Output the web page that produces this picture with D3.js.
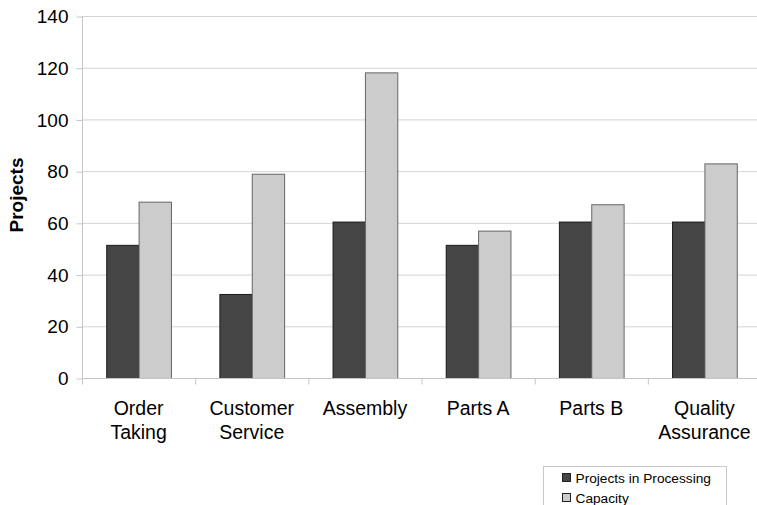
<!DOCTYPE html>
<html>
  <head>
    <meta charset="UTF-8" />
    <title>Projects vs Capacity</title>
    <script src="https://d3js.org/d3.v7.min.js"></script>
    <style>
      * { margin: 0; padding: 0; box-sizing: border-box; }
      body { background: #ffffff; overflow: hidden; }
      svg { display: block; font-family: "Liberation Sans", Arial, sans-serif; }
      .grid line { stroke: #d4d4d4; stroke-width: 1; }
      .axis path, .axis line { stroke: #c4c4c4; }
      .axis text { fill: #000; font-size: 19px; }
    </style>
  </head>
  <body>
    <svg id="chart" width="757" height="505"></svg>
    <script>
      const categories = [["Order", "Taking"], ["Customer", "Service"], ["Assembly"], ["Parts A"], ["Parts B"], ["Quality", "Assurance"]];
      const inProcessing = [51.5, 32.5, 60.5, 51.5, 60.5, 60.5];
      const capacity = [68.2, 79, 118.2, 57, 67.2, 83];
      const seriesNames = ["Projects in Processing", "Capacity"];
      const yTicks = [0, 20, 40, 60, 80, 100, 120, 140];

      const svg = d3.select("#chart");
      const margin = { left: 82, top: 16, right: -4, bottom: 127 };
      const width = 757 - margin.left - margin.right;
      const height = 505 - margin.top - margin.bottom;

      const g = svg.append("g").attr("transform", `translate(${margin.left},${margin.top})`);

      const x = d3.scaleBand().domain(d3.range(categories.length)).range([0, width]).paddingInner(0).paddingOuter(0);
      const inner = d3.scaleBand().domain([0, 1]).range([x.bandwidth() * 0.214, x.bandwidth() * 0.786]);
      const y = d3.scaleLinear().domain([0, 140]).range([height, 0]);

      // gridlines
      g.append("g").attr("class", "grid")
        .selectAll("line").data(yTicks.slice(1)).join("line")
        .attr("x1", 0).attr("x2", width)
        .attr("y1", d => y(d) + 0.5).attr("y2", d => y(d) + 0.5);

      // y axis
      const yAxis = g.append("g").attr("class", "axis")
        .attr("transform", "translate(0.5,0.5)")
        .call(d3.axisLeft(y).tickValues(yTicks).tickSize(6).tickPadding(8));
      yAxis.select(".domain").attr("d", `M0,${height}V0`);

      // bars
      const colors = ["#454545", "#cccccc"];
      const strokes = ["#1a1a1a", "#666666"];
      [inProcessing, capacity].forEach((vals, s) => {
        g.append("g").selectAll("rect").data(vals).join("rect")
          .attr("x", (d, i) => x(i) + inner(s) + 0.5)
          .attr("y", d => y(d) + 0.5)
          .attr("width", inner.bandwidth())
          .attr("height", d => height - y(d))
          .attr("fill", colors[s])
          .attr("stroke", strokes[s])
          .attr("stroke-width", 1);
      });

      // x axis
      const xAxis = g.append("g").attr("class", "axis")
        .attr("transform", `translate(0,${height + 0.5})`);
      xAxis.append("line").attr("x1", 0).attr("x2", width).attr("y1", 0).attr("y2", 0);
      xAxis.selectAll(".tk").data(d3.range(categories.length + 1)).join("line")
        .attr("class", "tk")
        .attr("x1", i => (i < categories.length ? x(i) : width) + 0.5)
        .attr("x2", i => (i < categories.length ? x(i) : width) + 0.5)
        .attr("y1", 0).attr("y2", 6);
      const labels = xAxis.selectAll(".lbl").data(categories).join("text")
        .attr("class", "lbl")
        .attr("text-anchor", "middle")
        .style("font-size", "19.5px")
        .attr("transform", (d, i) => `translate(${x(i) + x.bandwidth() / 2},0)`);
      labels.selectAll("tspan").data(d => d).join("tspan")
        .attr("x", 0)
        .attr("y", (d, j) => 36 + j * 24)
        .text(d => d);

      // y title
      svg.append("text")
        .attr("transform", `translate(23,195) rotate(-90)`)
        .attr("text-anchor", "middle")
        .attr("font-size", 19)
        .attr("font-weight", "bold")
        .text("Projects");

      // legend
      const legend = svg.append("g").attr("transform", "translate(543.5,466.5)");
      legend.append("rect").attr("width", 183).attr("height", 60)
        .attr("fill", "#fff").attr("stroke", "#c8c8c8");
      seriesNames.forEach((name, i) => {
        legend.append("rect").attr("x", 19).attr("y", 7 + i * 20)
          .attr("width", 8).attr("height", 8)
          .attr("fill", colors[i]).attr("stroke", "#222");
        legend.append("text").attr("x", 32).attr("y", 16 + i * 20)
          .attr("font-size", 13.7).text(name);
      });
    </script>
  </body>
</html>
